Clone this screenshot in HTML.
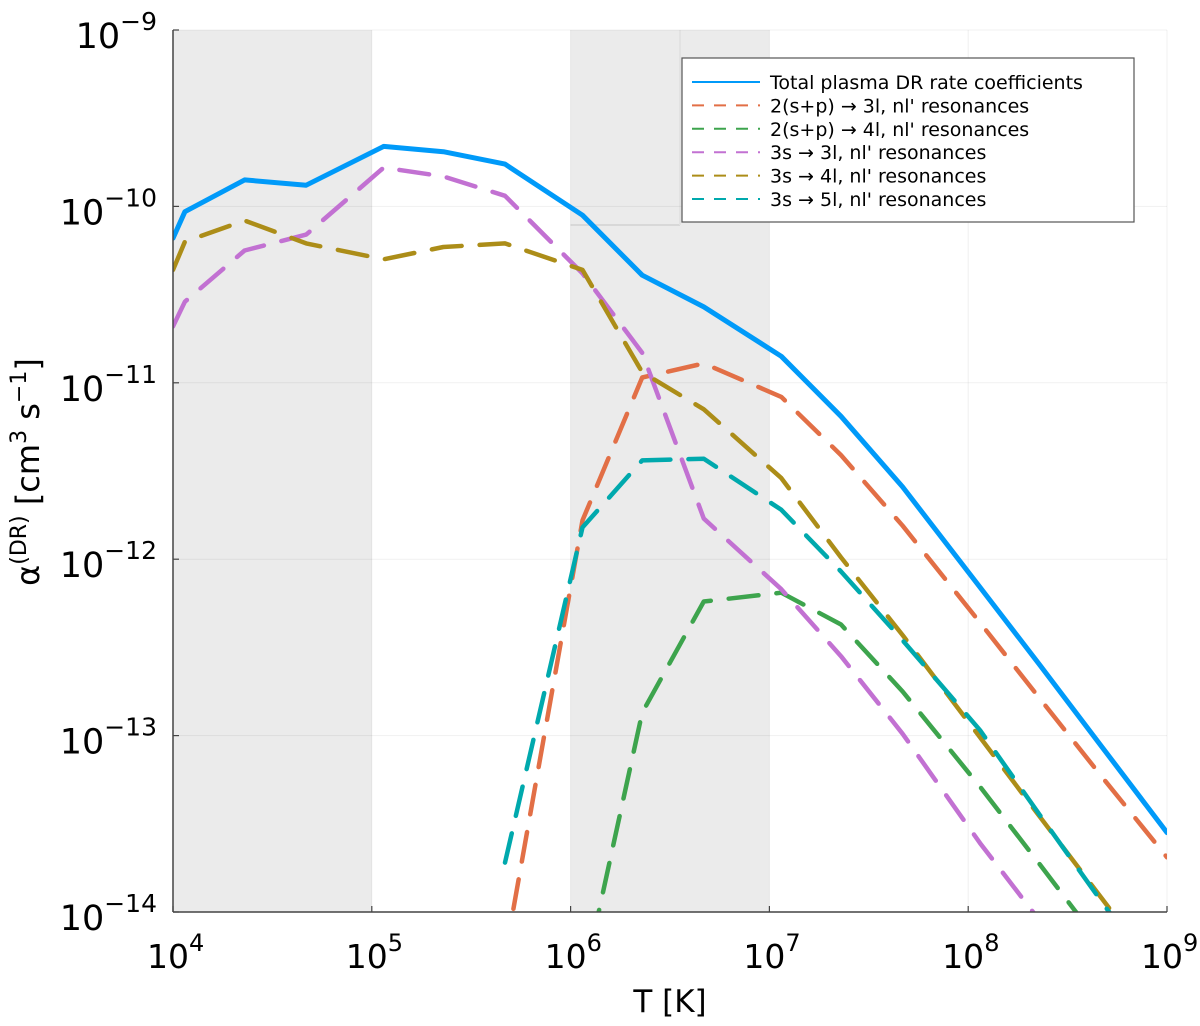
<!DOCTYPE html>
<html><head><meta charset="utf-8"><style>
body{margin:0;background:#fff;}
svg{display:block;font-family:"DejaVu Sans","Liberation Sans",sans-serif;}
</style></head><body>
<svg id="chart" width="1200" height="1026" viewBox="0 0 1200 1026" xmlns="http://www.w3.org/2000/svg">
<g id="bg"></g>
<g id="grid"></g>
<g id="series"></g>
<g id="axes"></g>
<g id="legend"></g>
</svg>
<script>
// data (log10 values)
const logT = [4, 4.06, 4.36, 4.67, 5.06, 5.36, 5.67, 6.06, 6.36, 6.67, 7.06, 7.36, 7.67, 8.06, 8.36, 8.67, 9];
const totalRate = [-10.18, -10.03, -9.85, -9.88, -9.66, -9.69, -9.76, -10.05, -10.39, -10.57, -10.85, -11.19, -11.59, -12.16, -12.6, -13.06, -13.55];
const res23 = [null, null, null, null, null, null, -14.25, -11.78, -10.97, -10.89, -11.08, -11.41, -11.81, -12.36, -12.79, -13.23, -13.69];
const res24 = [null, null, null, null, null, null, null, -14.42, -12.87, -12.24, -12.19, -12.37, -12.75, -13.29, -13.73, -14.19, null];
const res33 = [-10.68, -10.54, -10.25, -10.16, -9.78, -9.83, -9.94, -10.38, -10.83, -11.77, -12.17, -12.55, -12.99, -13.61, -14.05, -14.5, null];
const res34 = [-10.36, -10.20, -10.08, -10.21, -10.30, -10.23, -10.21, -10.36, -10.94, -11.15, -11.54, -11.99, -12.43, -13.01, -13.46, -13.92, -14.41];
const res35 = [null, null, null, null, null, null, -13.72, -11.82, -11.44, -11.43, -11.72, -12.07, -12.46, -12.97, -13.45, -13.94, -14.45];
const xTicks = [4, 5, 6, 7, 8, 9];
const yTicks = [-9, -10, -11, -12, -13, -14];
const legendLabels = ["Total plasma DR rate coefficients", "2(s+p) \u2192 3l, nl' resonances", "2(s+p) \u2192 4l, nl' resonances", "3s \u2192 3l, nl' resonances", "3s \u2192 4l, nl' resonances", "3s \u2192 5l, nl' resonances"];

const L=173,R=1167,T=30,B=912;
const xs=v=>L+(v-4)/5*(R-L);
const ys=v=>T+(-9-v)/5*(B-T);
const NS="http://www.w3.org/2000/svg";
function mk(tag,attrs,parent){const e=document.createElementNS(NS,tag);for(const k in attrs)e.setAttribute(k,attrs[k]);parent.appendChild(e);return e;}
const bg=document.getElementById('bg'),grid=document.getElementById('grid'),ser=document.getElementById('series'),axes=document.getElementById('axes'),leg=document.getElementById('legend');

[[4,5],[6,7]].forEach((b,i)=>{
  const r=mk('rect',{x:xs(b[0]),y:T,width:xs(b[1])-xs(b[0]),height:B-T,fill:'#ebebeb'},bg);
  
  
});
mk('line',{x1:xs(6),y1:225,x2:680,y2:225,stroke:'#d8d8d8','stroke-width':2},bg);
mk('line',{x1:680,y1:T,x2:680,y2:225,stroke:'#e2e2e2','stroke-width':2},bg);

xTicks.forEach(v=>mk('line',{x1:xs(v),y1:T,x2:xs(v),y2:B,stroke:'#000','stroke-opacity':0.06,'stroke-width':1},grid));
yTicks.forEach(v=>mk('line',{x1:L,y1:ys(v),x2:R,y2:ys(v),stroke:'#000','stroke-opacity':0.06,'stroke-width':1},grid));

const defs=mk('defs',{},ser);
const cp=mk('clipPath',{id:'clip'},defs);
mk('rect',{x:L,y:T,width:R-L,height:B-T},cp);
const seriesList=[
  {d:res23,c:'#e26f46',n:'series-2sp-3l'},
  {d:res24,c:'#3da44d',n:'series-2sp-4l'},
  {d:res33,c:'#c271d2',n:'series-3s-3l'},
  {d:res34,c:'#ac8d18',n:'series-3s-4l'},
  {d:res35,c:'#00a9ad',n:'series-3s-5l'},
  {d:totalRate,c:'#009af9',n:'series-total',solid:true}
];
seriesList.forEach(s=>{
  let pts=[];
  s.d.forEach((v,i)=>{if(v!==null)pts.push(xs(logT[i]).toFixed(1)+','+ys(v).toFixed(1));});
  const p=mk('polyline',{points:pts.join(' '),fill:'none',stroke:s.c,'stroke-width':s.solid?5:4.5,'stroke-linejoin':'round','stroke-linecap':'round','clip-path':'url(#clip)'},ser);
  if(!s.solid)p.setAttribute('stroke-dasharray','30 18');
  
  
});

mk('line',{x1:L,y1:T,x2:L,y2:B,stroke:'#444','stroke-width':1.5},axes);
mk('line',{x1:L,y1:B,x2:R,y2:B,stroke:'#444','stroke-width':1.5},axes);
xTicks.forEach(v=>{
  mk('line',{x1:xs(v),y1:B,x2:xs(v),y2:B-6,stroke:'#444','stroke-width':1.2},axes);
  const t=mk('text',{x:xs(v)-26,y:B+56,'text-anchor':'start','font-size':33,fill:'#000'},axes);
  t.innerHTML='10<tspan dy="-17" font-size="24">'+v+'</tspan>';
  
  
});
yTicks.forEach(v=>{
  mk('line',{x1:L,y1:ys(v),x2:L+6,y2:ys(v),stroke:'#444','stroke-width':1.2},axes);
  const t=mk('text',{x:157,y:ys(v)+18,'text-anchor':'end','font-size':35,fill:'#000'},axes);
  t.innerHTML='10<tspan dy="-18" font-size="25">\u2212'+Math.abs(v)+'</tspan>';
  
  
});
const xt=mk('text',{x:670,y:1012,'text-anchor':'middle','font-size':31,fill:'#000'},axes);
xt.textContent='T [K]';


const yt=mk('text',{x:0,y:0,transform:'translate(39,472) rotate(-90)','text-anchor':'middle','font-size':32,fill:'#000'},axes);
yt.innerHTML='\u03b1<tspan dy="-13" font-size="22">(DR)</tspan><tspan dy="13"> [cm</tspan><tspan dy="-13" font-size="22">3</tspan><tspan dy="13"> s</tspan><tspan dy="-13" font-size="22">\u22121</tspan><tspan dy="13">]</tspan>';



const lb=mk('rect',{x:682,y:58,width:452,height:164,fill:'#fff',stroke:'#555','stroke-width':1.2},leg);


const lc=['#009af9','#e26f46','#3da44d','#c271d2','#ac8d18','#00a9ad'];
legendLabels.forEach((s,i)=>{
  const y=82+i*23.4;
  const ln=mk('line',{x1:692,y1:y,x2:760,y2:y,stroke:lc[i],'stroke-width':2},leg);
  if(i>0)ln.setAttribute('stroke-dasharray','12 10');
  
  
  const t=mk('text',{x:770,y:y+7,'font-size':19,fill:'#000'},leg);
  t.textContent=s;
  
  
});
</script>
</body></html>
